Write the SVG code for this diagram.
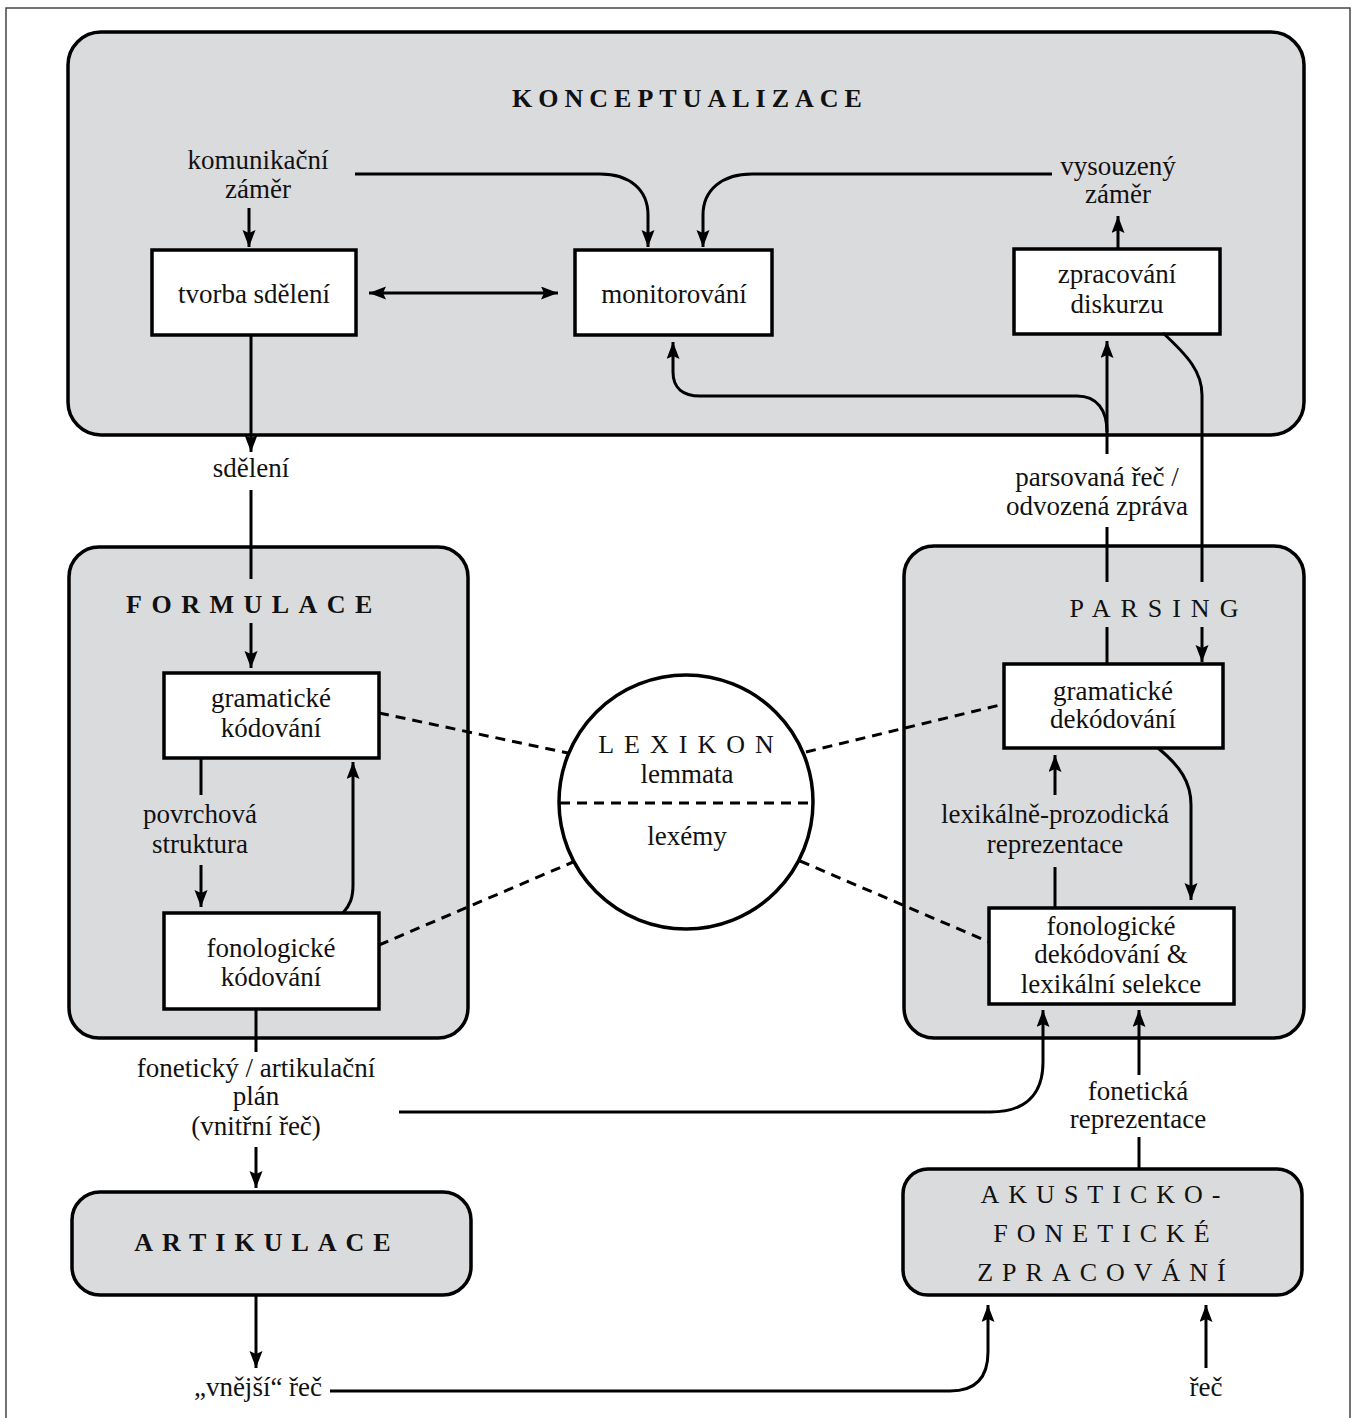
<svg xmlns="http://www.w3.org/2000/svg" width="1354" height="1418" viewBox="0 0 1354 1418">
<style>
.t{font-family:"Liberation Serif","Times New Roman",serif;font-size:27px;fill:#111;text-anchor:middle}
.ti{font-family:"Liberation Serif","Times New Roman",serif;font-size:26px;fill:#111;text-anchor:middle;letter-spacing:9px}
.b{font-weight:bold}
.group{fill:#dadbdd;stroke:#000;stroke-width:3.5}
.box{fill:#fff;stroke:#000;stroke-width:3.5}
.c{fill:none;stroke:#000;stroke-width:3}
.d{fill:none;stroke:#000;stroke-width:3;stroke-dasharray:10 7}
</style>
<defs>
<marker id="ah" markerUnits="userSpaceOnUse" markerWidth="18" markerHeight="14" refX="17" refY="6.5" orient="auto-start-reverse">
<path d="M0,0 L17,6.5 L0,13 L3,6.5 z" fill="#000"/>
</marker>
</defs>
<rect x="6" y="8" width="1344" height="1420" fill="#fff" stroke="#444" stroke-width="1.5"/>

<g id="konceptualizace">
<rect class="group" x="68" y="32" width="1236" height="403" rx="33"/>
<text class="ti b" x="690" y="107" style="letter-spacing:6px">KONCEPTUALIZACE</text>
</g>
<g id="formulace">
<rect class="group" x="69" y="547" width="399" height="491" rx="30"/>
<text class="ti b" x="254" y="613" style="letter-spacing:9.5px">FORMULACE</text>
</g>
<g id="parsing">
<rect class="group" x="904" y="546" width="400" height="492" rx="30"/>
<text class="ti" x="1159" y="617" style="letter-spacing:10px">PARSING</text>
</g>
<g id="artikulace">
<rect class="group" x="72" y="1192" width="399" height="103" rx="28"/>
<text class="ti b" x="267" y="1251">ARTIKULACE</text>
</g>
<g id="akusticko">
<rect class="group" x="903" y="1169" width="399" height="126" rx="25"/>
<text class="ti" x="1105" y="1203">AKUSTICKO-</text>
<text class="ti" x="1106" y="1242">FONETICKÉ</text>
<text class="ti" x="1106" y="1281">ZPRACOVÁNÍ</text>
</g>

<g id="tvorba">
<rect class="box" x="152" y="250" width="204" height="85"/>
<text class="t" x="254" y="303">tvorba sdělení</text>
</g>
<g id="monitorovani">
<rect class="box" x="575" y="250" width="197" height="85"/>
<text class="t" x="674" y="303">monitorování</text>
</g>
<g id="zpracovani">
<rect class="box" x="1014" y="249" width="206" height="85"/>
<text class="t" x="1117" y="283">zpracování</text>
<text class="t" x="1117" y="313">diskurzu</text>
</g>
<g id="gram-kodovani">
<rect class="box" x="164" y="673" width="215" height="85"/>
<text class="t" x="271" y="707">gramatické</text>
<text class="t" x="271" y="737">kódování</text>
</g>
<g id="fonol-kodovani">
<rect class="box" x="164" y="913" width="215" height="96"/>
<text class="t" x="271" y="957">fonologické</text>
<text class="t" x="271" y="986">kódování</text>
</g>
<g id="gram-dekodovani">
<rect class="box" x="1004" y="664" width="219" height="84"/>
<text class="t" x="1113" y="700">gramatické</text>
<text class="t" x="1113" y="728">dekódování</text>
</g>
<g id="fonol-dekodovani">
<rect class="box" x="989" y="908" width="245" height="96"/>
<text class="t" x="1111" y="935">fonologické</text>
<text class="t" x="1111" y="963">dekódování &amp;</text>
<text class="t" x="1111" y="993">lexikální selekce</text>
</g>
<g id="lexikon">
<circle cx="686" cy="802" r="127" fill="#fff" stroke="#000" stroke-width="3.5"/>
<line class="d" x1="560" y1="803" x2="812" y2="803"/>
<text class="ti" x="691" y="753" style="letter-spacing:10px">LEXIKON</text>
<text class="t" x="687" y="783">lemmata</text>
<text class="t" x="687" y="845">lexémy</text>
</g>

<g id="labels">
<text class="t" x="258" y="169">komunikační</text>
<text class="t" x="258" y="198">záměr</text>
<text class="t" x="1118" y="175">vysouzený</text>
<text class="t" x="1118" y="203">záměr</text>
<text class="t" x="251" y="477">sdělení</text>
<text class="t" x="1097" y="486">parsovaná řeč /</text>
<text class="t" x="1097" y="515">odvozená zpráva</text>
<text class="t" x="200" y="823">povrchová</text>
<text class="t" x="200" y="853">struktura</text>
<text class="t" x="1055" y="823">lexikálně-prozodická</text>
<text class="t" x="1055" y="853">reprezentace</text>
<text class="t" x="256" y="1077">fonetický / artikulační</text>
<text class="t" x="256" y="1105">plán</text>
<text class="t" x="256" y="1135">(vnitřní řeč)</text>
<text class="t" x="1138" y="1100">fonetická</text>
<text class="t" x="1138" y="1128">reprezentace</text>
<text class="t" x="258" y="1396">„vnější“ řeč</text>
<text class="t" x="1206" y="1396">řeč</text>
</g>

<g id="connectors">
<path class="c" d="M249,208 L249,247" marker-end="url(#ah)"/>
<path class="c" d="M355,174 L600,174 C630,174 648,190 648,215 L648,247" marker-end="url(#ah)"/>
<path class="c" d="M1052,174 L752,174 C722,174 703,190 703,215 L703,247" marker-end="url(#ah)"/>
<path class="c" d="M1118,249 L1118,216" marker-end="url(#ah)"/>
<path class="c" d="M369,293 L558,293" marker-start="url(#ah)" marker-end="url(#ah)"/>
<path class="c" d="M251,335 L251,452" marker-end="url(#ah)"/>
<path class="c" d="M251,490 L251,579"/>
<path class="c" d="M251,623 L251,668" marker-end="url(#ah)"/>
<path class="c" d="M201,758 L201,795"/>
<path class="c" d="M201,865 L201,907" marker-end="url(#ah)"/>
<path class="c" d="M343,913 C350,905 353,898 353,885 L353,762" marker-end="url(#ah)"/>
<path class="c" d="M256,1009 L256,1052"/>
<path class="c" d="M256,1147 L256,1188" marker-end="url(#ah)"/>
<path class="c" d="M256,1295 L256,1368" marker-end="url(#ah)"/>
<path class="c" d="M330,1391 L950,1391 C975,1391 988,1378 988,1352 L988,1305" marker-end="url(#ah)"/>
<path class="c" d="M1206,1368 L1206,1305" marker-end="url(#ah)"/>
<path class="c" d="M1139,1169 L1139,1137"/>
<path class="c" d="M1139,1075 L1139,1010" marker-end="url(#ah)"/>
<path class="c" d="M399,1112 L990,1112 C1025,1112 1043,1095 1043,1062 L1043,1010" marker-end="url(#ah)"/>
<path class="c" d="M1055,908 L1055,867"/>
<path class="c" d="M1055,795 L1055,755" marker-end="url(#ah)"/>
<path class="c" d="M1158,748 C1180,766 1191,782 1191,805 L1191,900" marker-end="url(#ah)"/>
<path class="c" d="M1107,664 L1107,627"/>
<path class="c" d="M1107,582 L1107,527"/>
<path class="c" d="M1107,454 L1107,341" marker-end="url(#ah)"/>
<path class="c" d="M1107,432 C1107,410 1097,396 1077,396 L700,396 C683,396 673,388 673,372 L673,342" marker-end="url(#ah)"/>
<path class="c" d="M1163,333 C1188,356 1202,372 1202,395 L1202,582"/>
<path class="c" d="M1202,627 L1202,662" marker-end="url(#ah)"/>
<path class="d" d="M379,713 L568,753"/>
<path class="d" d="M379,945 L573,862"/>
<path class="d" d="M806,752 L1004,704"/>
<path class="d" d="M800,861 L989,942"/>
</g>
</svg>
